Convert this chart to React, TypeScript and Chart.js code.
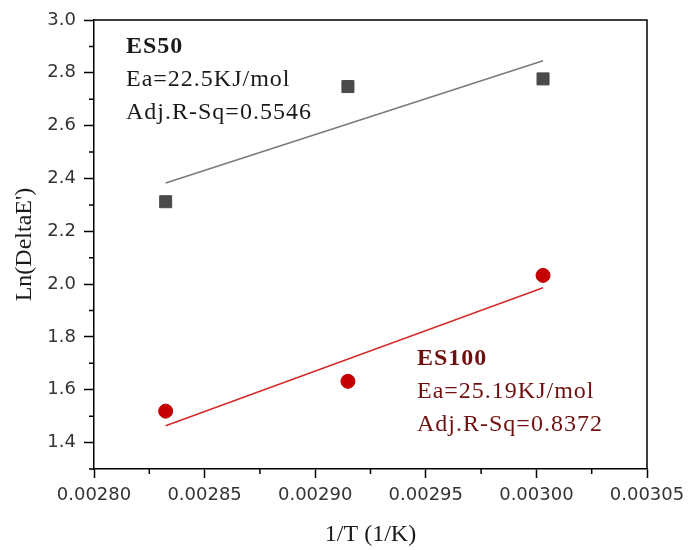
import React, { useEffect, useRef } from 'react';
import { Chart, registerables } from 'chart.js';

Chart.register(...registerables);

// ---- data ----
const invT = [0.0028324, 0.0029148, 0.003003];
const es50 = [2.312, 2.748, 2.777];
const es100 = [1.519, 1.632, 2.033];
const fitX = [0.0028324, 0.003003];
const es50Fit = [2.383, 2.846];
const es100Fit = [1.464, 1.986];

const yTicks = [1.4, 1.6, 1.8, 2.0, 2.2, 2.4, 2.6, 2.8, 3.0];
const yMinor = [1.3, 1.5, 1.7, 1.9, 2.1, 2.3, 2.5, 2.7, 2.9];
const xTicks = [0.0028, 0.00285, 0.0029, 0.00295, 0.003, 0.00305];
const xMinor = [0.002825, 0.002875, 0.002925, 0.002975, 0.003025];

const es50Label = ['ES50', 'Ea=22.5KJ/mol', 'Adj.R-Sq=0.5546'];
const es100Label = ['ES100', 'Ea=25.19KJ/mol', 'Adj.R-Sq=0.8372'];

const SERIF = '"Liberation Serif", "Times New Roman", serif';
const SANS = '"DejaVu Sans", "Liberation Sans", sans-serif';

const decorPlugin = {
  id: 'decor',
  afterDatasetsDraw(chart: any) {
    const { ctx, chartArea: a, scales } = chart;
    const xs = scales.x;
    const ys = scales.y;
    ctx.save();
    ctx.strokeStyle = '#000';
    ctx.lineWidth = 1.5;
    // top and right borders
    ctx.beginPath();
    ctx.moveTo(a.left, a.top);
    ctx.lineTo(a.right, a.top);
    ctx.lineTo(a.right, a.bottom);
    ctx.stroke();
    // minor ticks
    ctx.beginPath();
    yMinor.forEach((v) => {
      const p = ys.getPixelForValue(v);
      ctx.moveTo(a.left - 5, p);
      ctx.lineTo(a.left, p);
    });
    xMinor.forEach((v) => {
      const p = xs.getPixelForValue(v);
      ctx.moveTo(p, a.bottom);
      ctx.lineTo(p, a.bottom + 5);
    });
    ctx.stroke();

    // annotations
    const drawBlock = (lines: string[], x: number, y0: number, color: string) => {
      ctx.fillStyle = color;
      ctx.textAlign = 'left';
      ctx.textBaseline = 'alphabetic';
      (ctx as any).letterSpacing = '1px';
      lines.forEach((t, i) => {
        ctx.font = (i === 0 ? 'bold ' : '') + '24px ' + SERIF;
        ctx.fillText(t, x, y0 + i * 33);
      });
      (ctx as any).letterSpacing = '0px';
    };
    drawBlock(es50Label, a.left + 32, 53, '#1a1a1a');
    drawBlock(es100Label, a.left + 323, 365, '#6e1010');
    ctx.restore();
  },
};

export default function App() {
  const ref = useRef<HTMLCanvasElement>(null);
  useEffect(() => {
    document.body.style.margin = '0';
    const canvas = ref.current!;
    const chart = new Chart(canvas, {
      type: 'scatter',
      data: {
        datasets: [
          {
            type: 'line',
            data: fitX.map((x, i) => ({ x, y: es50Fit[i] })),
            borderColor: '#7a7a7a',
            borderWidth: 1.5,
            pointRadius: 0,
            fill: false,
          },
          {
            type: 'line',
            data: fitX.map((x, i) => ({ x, y: es100Fit[i] })),
            borderColor: '#d42a2a',
            borderWidth: 1.5,
            pointRadius: 0,
            fill: false,
          },
          {
            data: invT.map((x, i) => ({ x, y: es50[i] })),
            pointStyle: 'rect',
            pointRadius: 8.5,
            backgroundColor: '#4a4a4a',
            borderColor: '#4a4a4a',
            borderWidth: 1,
          },
          {
            data: invT.map((x, i) => ({ x, y: es100[i] })),
            pointStyle: 'circle',
            pointRadius: 7,
            backgroundColor: '#c40000',
            borderColor: '#c40000',
            borderWidth: 1,
          },
        ],
      },
      options: {
        animation: false,
        responsive: false,
        maintainAspectRatio: false,
        layout: { padding: { top: 20, right: 42, left: 0, bottom: 0 } },
        plugins: { legend: { display: false }, tooltip: { enabled: false } },
        scales: {
          x: {
            type: 'linear',
            min: 0.0028,
            max: 0.00305,
            afterBuildTicks: (s: any) => {
              s.ticks = xTicks.map((v) => ({ value: v }));
            },
            afterFit: (s: any) => {
              s.height = 81;
              s.paddingLeft = 0;
              s.paddingRight = 0;
            },
            grid: {
              display: true,
              drawOnChartArea: false,
              drawTicks: true,
              tickLength: 9,
              tickColor: '#000',
              tickWidth: 1.5,
            },
            border: { display: true, color: '#000', width: 1.5 },
            ticks: {
              padding: 7,
              color: '#333',
              maxRotation: 0,
              autoSkip: false,
              font: { family: SANS, size: 18 },
              callback: (v: any) => Number(v).toFixed(5),
            },
            title: {
              display: true,
              text: '1/T (1/K)',
              color: '#1a1a1a',
              font: { family: SERIF, size: 24 },
              padding: { top: 0, bottom: 1 },
            },
          },
          y: {
            type: 'linear',
            min: 1.3,
            max: 3.0,
            afterBuildTicks: (s: any) => {
              s.ticks = yTicks.map((v) => ({ value: v }));
            },
            afterFit: (s: any) => {
              s.width = 94;
            },
            grid: {
              display: true,
              drawOnChartArea: false,
              drawTicks: true,
              tickLength: 10,
              tickColor: '#000',
              tickWidth: 1.5,
            },
            border: { display: true, color: '#000', width: 1.5 },
            ticks: {
              padding: 8,
              color: '#333',
              autoSkip: false,
              font: { family: SANS, size: 18 },
              callback: (v: any) => Number(v).toFixed(1),
            },
            title: {
              display: true,
              text: "Ln(DeltaE')",
              color: '#1a1a1a',
              font: { family: SERIF, size: 24 },
              padding: { top: 10, bottom: 0 },
            },
          },
        },
      },
      plugins: [decorPlugin],
    });
    return () => chart.destroy();
  }, []);
  return <canvas ref={ref} width={689} height={550} style={{ display: 'block', width: 689, height: 550 }} />;
}
